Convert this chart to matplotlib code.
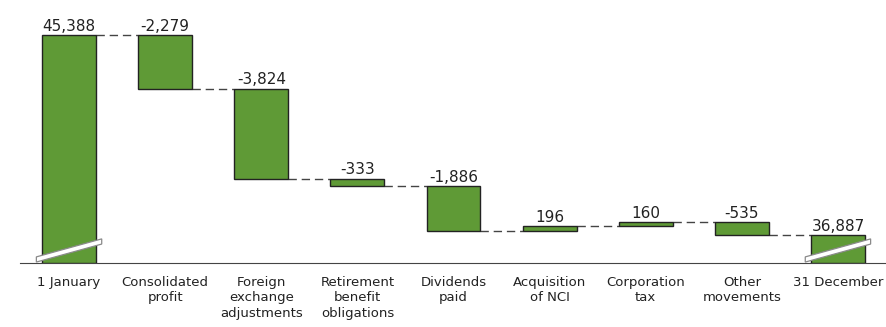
import matplotlib.pyplot as plt
from matplotlib.patches import Polygon

categories = ["1 January", "Consolidated\nprofit", "Foreign\nexchange\nadjustments",
              "Retirement\nbenefit\nobligations", "Dividends\npaid", "Acquisition\nof NCI",
              "Corporation\ntax", "Other\nmovements", "31 December"]
changes = [45388, -2279, -3824, -333, -1886, 196, 160, -535, 36887]
labels = ["45,388", "-2,279", "-3,824", "-333", "-1,886", "196", "160", "-535", "36,887"]

GREEN = "#5f9a36"
Y_MIN, Y_MAX = 35700, 46875
W = 0.56

fig = plt.figure(figsize=(8.86, 3.27), dpi=100)
ax = fig.add_axes([0.0226, 0.1957, 0.9774, 0.8043])

# running totals for the floating bars
bottoms, tops = [], []
level = 0
for i, c in enumerate(changes):
    if i == 0 or i == len(changes) - 1:
        lo, hi = Y_MIN, c
        level = c
    else:
        new = level + c
        lo, hi = min(level, new), max(level, new)
        level = new
    bottoms.append(lo)
    tops.append(hi)

xs = range(len(changes))
ax.bar(xs, [t - b for t, b in zip(tops, bottoms)], bottom=bottoms, width=W,
       color=GREEN, edgecolor="#222222", linewidth=1.0, zorder=3)

for x, t, lab in zip(xs, tops, labels):
    ax.annotate(lab, (x, t), xytext=(0, 1), textcoords="offset points",
                ha="center", va="bottom", fontsize=11, color="#222222")

# dashed connectors between bars
level = changes[0]
for i in range(len(changes) - 1):
    if i > 0:
        level += changes[i]
    ax.plot([i + W / 2, i + 1 - W / 2], [level, level], color="#444444",
            lw=1.0, dashes=(6, 3.5), zorder=2)

# axis break marks on the first and last bars
for i in (0, len(changes) - 1):
    y0 = Y_MIN + 40
    rise, thick = 765, 220
    band = Polygon([(i - 0.34, y0), (i + 0.34, y0 + rise),
                    (i + 0.34, y0 + rise + thick), (i - 0.34, y0 + thick)],
                   closed=True, facecolor="white", edgecolor="#8a8a8a",
                   linewidth=0.9, zorder=4, clip_on=False)
    ax.add_patch(band)

ax.set_xlim(-0.51, 8.5)
ax.set_ylim(Y_MIN, Y_MAX)
for s in ("top", "right", "left"):
    ax.spines[s].set_visible(False)
ax.spines["bottom"].set_color("#444444")
ax.set_yticks([])
ax.set_xticks(list(xs))
ax.set_xticklabels(categories, fontsize=9.5, color="#222222", linespacing=1.25)
ax.tick_params(axis="x", length=0, pad=9)

fig.savefig("out.png", dpi=100)
